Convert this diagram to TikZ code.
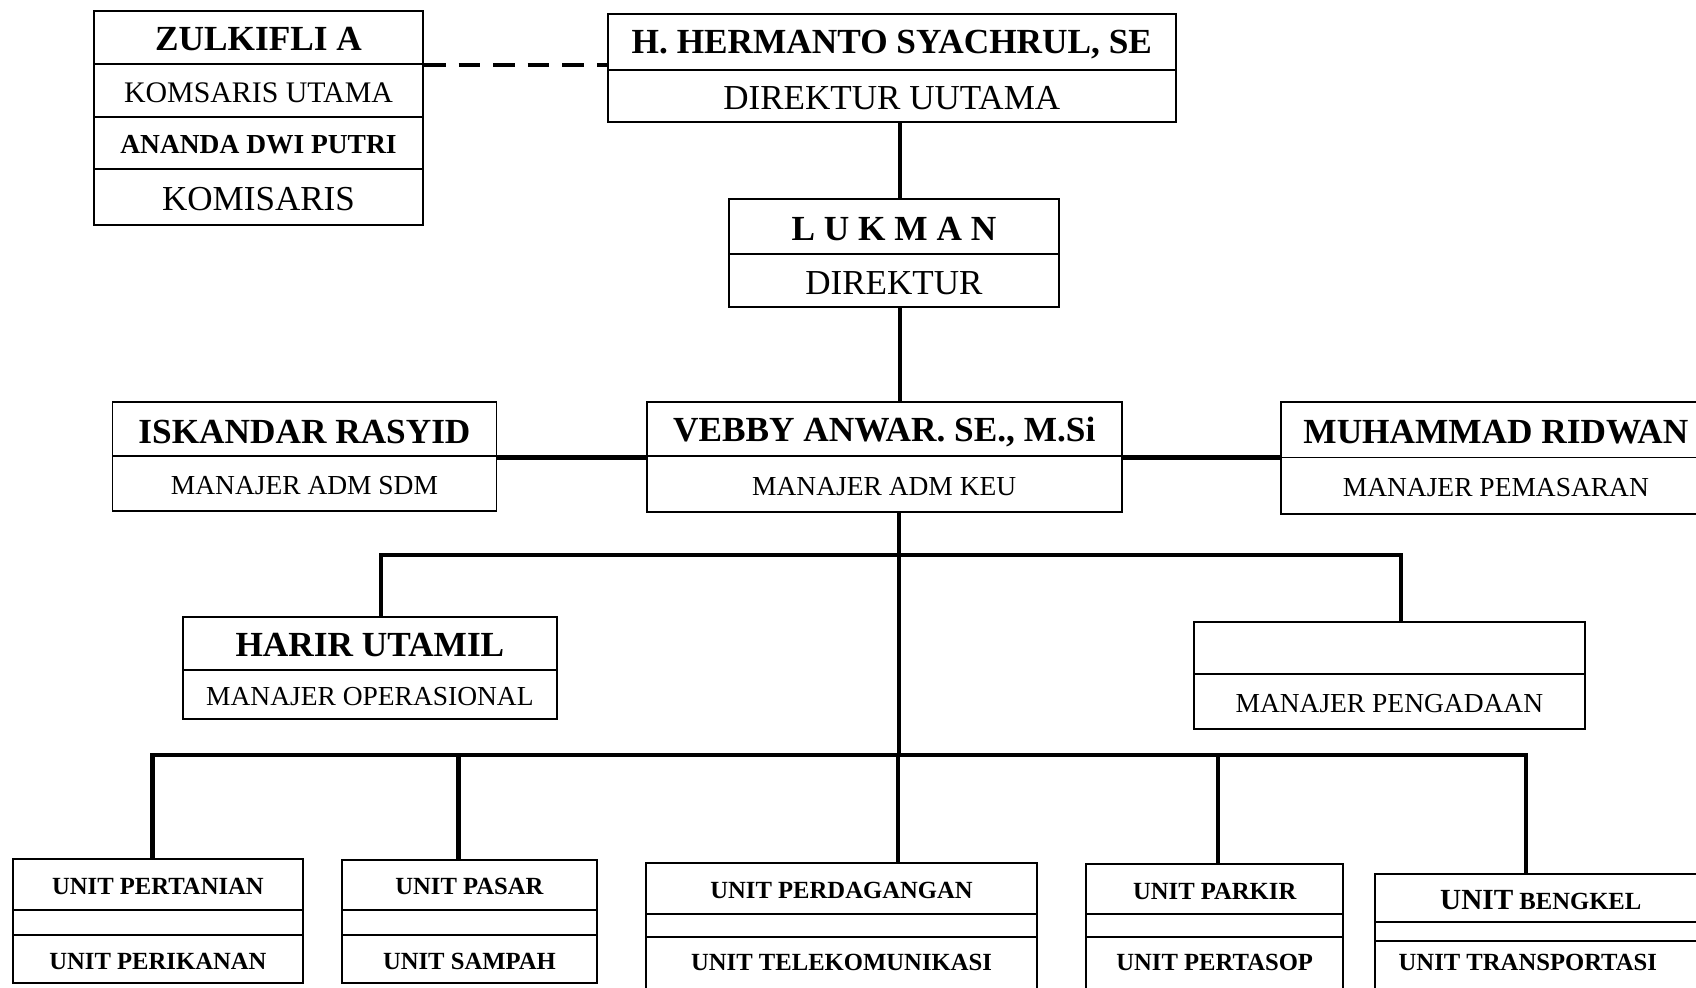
\documentclass[tikz,border=0pt]{standalone}
\usepackage{fontspec}
\setmainfont{Liberation Serif}
\usetikzlibrary{fit}
\newcommand\nmfont{\fontsize{16.3}{18}\selectfont\bfseries}
\newcommand\ttlfont{\fontsize{16.2}{18}\selectfont}
\newcommand\mgrfont{\fontsize{12.7}{14}\selectfont}
\newcommand\unitfont{\fontsize{11.4}{13}\selectfont\bfseries}
\begin{document}
\begin{tikzpicture}[x=0.5pt,y=-0.5pt,
  cell/.style={draw, line width=0.9pt, inner sep=0pt},
  txt/.style={inner sep=0pt, yshift=-1pt},
  link/.style={line width=2pt},
  dashlink/.style={line width=2pt, dash pattern=on 10pt off 6pt}]
\fill[white] (0,0) rectangle (1568,913);
\useasboundingbox (0,0) rectangle (1568,913);

% Komisaris
\node[cell, fit={(87,10) (391,59)}, label={[txt, font=\nmfont]center:ZULKIFLI A}] (z1) {};
\node[cell, fit={(87,59) (391,108)}, label={[txt, font=\fontsize{13.8}{15}\selectfont]center:KOMSARIS UTAMA}] (z2) {};
\node[cell, fit={(87,108) (391,156)}, label={[txt, font=\fontsize{12.7}{14}\selectfont\bfseries]center:ANANDA DWI PUTRI}] (z3) {};
\node[cell, fit={(87,156) (391,208)}, label={[txt, font=\ttlfont]center:KOMISARIS}] (z4) {};

% Direktur utama
\node[cell, fit={(562,13) (1087,65)}, label={[txt, font=\nmfont]center:H. HERMANTO SYACHRUL, SE}] (h1) {};
\node[cell, fit={(562,65) (1087,113)}, label={[txt, font=\ttlfont]center:DIREKTUR UUTAMA}] (h2) {};

% Direktur
\node[cell, fit={(674,184) (979,235)}, label={[txt, font=\nmfont]center:L U K M A N}] (l1) {};
\node[cell, fit={(674,235) (979,284)}, label={[txt, font=\ttlfont]center:DIREKTUR}] (l2) {};

% Managers
\node[cell, fit={(104,372) (459,422)}, label={[txt, font=\nmfont]center:ISKANDAR RASYID}] (i1) {};
\node[cell, fit={(104,422) (459,472)}, label={[txt, font=\mgrfont]center:MANAJER ADM SDM}] (i2) {};

\node[cell, fit={(598,372) (1037,422)}, label={[txt, font=\nmfont]center:VEBBY ANWAR. SE., M.Si}] (v1) {};
\node[cell, fit={(598,422) (1037,473)}, label={[txt, font=\mgrfont]center:MANAJER ADM KEU}] (v2) {};

\node[cell, fit={(1184,372) (1582,423)}, label={[txt, font=\nmfont]center:MUHAMMAD RIDWAN}] (m1) {};
\node[cell, fit={(1184,423) (1582,475)}, label={[txt, font=\mgrfont]center:MANAJER PEMASARAN}] (m2) {};

\node[cell, fit={(169,570) (515,619)}, label={[txt, font=\nmfont]center:HARIR UTAMIL}] (r1) {};
\node[cell, fit={(169,619) (515,665)}, label={[txt, font=\mgrfont]center:MANAJER OPERASIONAL}] (r2) {};

\node[cell, fit={(1104,575) (1465,623)}] (p1) {};
\node[cell, fit={(1104,623) (1465,674)}, label={[txt, font=\mgrfont]center:MANAJER PENGADAAN}] (p2) {};

% Units
\node[cell, fit={(12,794) (280,841)}, label={[txt, font=\unitfont]center:UNIT PERTANIAN}] (u1a) {};
\node[cell, fit={(12,841) (280,864)}] (u1b) {};
\node[cell, fit={(12,864) (280,909)}, label={[txt, font=\unitfont]center:UNIT PERIKANAN}] (u1c) {};

\node[cell, fit={(316,795) (552,841)}, label={[txt, font=\unitfont]center:UNIT PASAR}] (u2a) {};
\node[cell, fit={(316,841) (552,864)}] (u2b) {};
\node[cell, fit={(316,864) (552,909)}, label={[txt, font=\unitfont]center:UNIT SAMPAH}] (u2c) {};

\node[cell, fit={(597,798) (959,845)}, label={[txt, font=\unitfont]center:UNIT PERDAGANGAN}] (u3a) {};
\node[cell, fit={(597,845) (959,866)}] (u3b) {};
\node[cell, fit={(597,866) (959,930)}, label={[txt, font=\unitfont, yshift=5pt]center:UNIT TELEKOMUNIKASI}] (u3c) {};

\node[cell, fit={(1004,799) (1242,845)}, label={[txt, font=\unitfont]center:UNIT PARKIR}] (u4a) {};
\node[cell, fit={(1004,845) (1242,866)}] (u4b) {};
\node[cell, fit={(1004,866) (1242,930)}, label={[txt, font=\unitfont, yshift=5pt]center:UNIT PERTASOP}] (u4c) {};

\node[cell, fit={(1271,808) (1578,852)}, label={[txt, font=\unitfont]center:{\fontsize{13.5}{15}\selectfont UNIT} BENGKEL}] (u5a) {};
\node[cell, fit={(1271,852) (1578,870)}] (u5b) {};
\node[cell, fit={(1271,870) (1578,930)}, label={[txt, font=\unitfont, yshift=6pt, xshift=-6pt]center:UNIT TRANSPORTASI}] (u5c) {};

% Connectors
\coordinate (sp) at (832,0);
\coordinate (bus) at (831,698);
\coordinate (midL) at (352,513);
\coordinate (midR) at (1295,513);
\coordinate (b1) at (141,698);
\coordinate (b2) at (424,698);
\coordinate (b3) at (830,698);
\coordinate (b4) at (1126,698);
\coordinate (b5) at (1411,698);

\draw[dashlink] (z1.south east) -- (z1.south east -| h1.west);
\draw[link] (h2.south -| sp) -- (l1.north -| sp);
\draw[link] (l2.south -| sp) -- (v1.north -| sp);
\draw[link] (i1.south east) -- (v1.south west);
\draw[link] (v1.south east) -- (v1.south east -| m1.west);
\draw[link] (v2.south -| bus) -- (bus);
\draw[link] (midL |- r1.north) -- (midL) -- (midR) -- (midR |- p1.north);
\draw[link] (b1 |- u1a.north) -- (b1) -- (b5) -- (b5 |- u5a.north);
\draw[link] (b2) -- (b2 |- u2a.north);
\draw[link] (b3) -- (b3 |- u3a.north);
\draw[link] (b4) -- (b4 |- u4a.north);
\end{tikzpicture}
\end{document}
